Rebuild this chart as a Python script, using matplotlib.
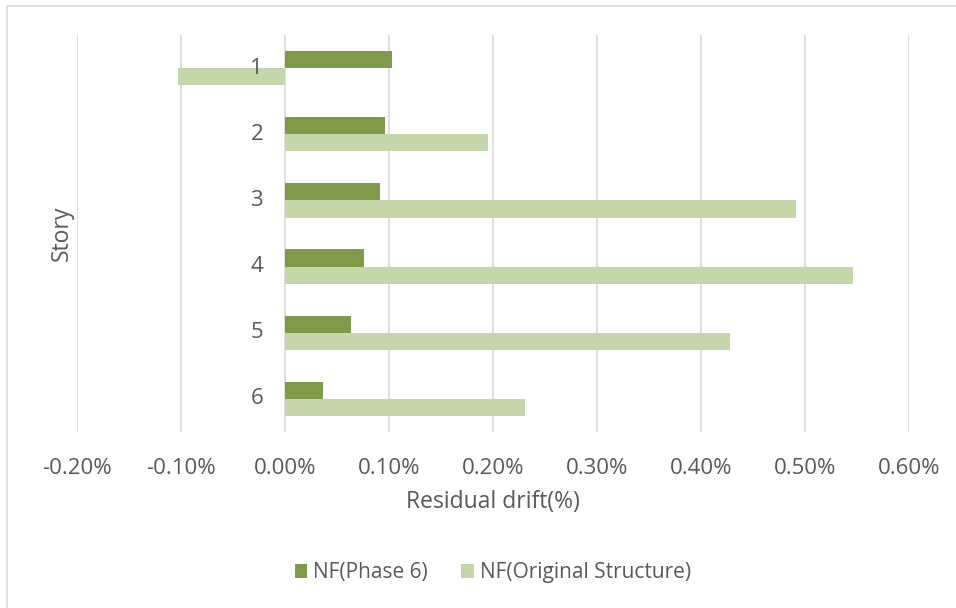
import numpy as np
import matplotlib.pyplot as plt
from matplotlib.patches import Rectangle
from matplotlib.ticker import FuncFormatter

stories = ['1', '2', '3', '4', '5', '6']
phase6 = [0.103, 0.096, 0.091, 0.076, 0.0635, 0.037]
original = [-0.103, 0.195, 0.4915, 0.5465, 0.428, 0.231]
series_names = ['NF(Phase 6)', 'NF(Original Structure)']

dark_green = '#7F9A48'
light_green = '#C5D6AB'
text_gray = '#595959'

plt.rcParams['font.family'] = ['Open Sans', 'DejaVu Sans']

fig = plt.figure(figsize=(9.56, 6.08), dpi=100)
ax = fig.add_axes([77 / 956, 1 - 432 / 608, (909 - 77) / 956, (432 - 35) / 608])

# chart border (runs off the right and bottom edges)
fig.patches.append(Rectangle((7 / 956, -0.02), 1.1, 1 - 6 / 608 + 0.02,
                             transform=fig.transFigure, fill=False,
                             edgecolor='#D9D9D9', linewidth=1.2))

y = np.arange(len(stories))
h = 0.26
ax.barh(y - h / 2, phase6, height=h, color=dark_green, label=series_names[0], zorder=3)
ax.barh(y + h / 2, original, height=h, color=light_green, label=series_names[1], zorder=3)

ax.set_xlim(-0.2, 0.6)
ax.set_ylim(len(stories) - 0.5, -0.5)
ax.set_xticks(np.arange(-0.2, 0.61, 0.1))
ax.xaxis.set_major_formatter(FuncFormatter(lambda v, p: f'{v:.2f}%'))
ax.grid(axis='x', color='#D9D9D9', linewidth=1.2, zorder=0)
for s in ax.spines.values():
    s.set_visible(False)
ax.tick_params(axis='both', length=0, labelsize=16, colors=text_gray)
ax.tick_params(axis='x', pad=19)

ax.set_yticks(y)
ax.set_yticklabels([])
for yi, lab in zip(y, stories):
    ax.text(-0.021, yi, lab, ha='right', va='center', fontsize=16, color=text_gray)

ax.set_xlabel('Residual drift(%)', fontsize=16.5, color=text_gray, labelpad=8)
fig.text(62 / 956, 1 - 233 / 608, 'Story', rotation=90, ha='center', va='center',
         fontsize=16.5, color=text_gray)

ax.legend(loc='center', bbox_to_anchor=(0.5, -0.355), ncol=2, frameon=False,
          fontsize=15, labelcolor=text_gray, handlelength=0.6, handleheight=0.6,
          handletextpad=0.3, columnspacing=1.6)

fig.savefig('out.png', dpi=100)
